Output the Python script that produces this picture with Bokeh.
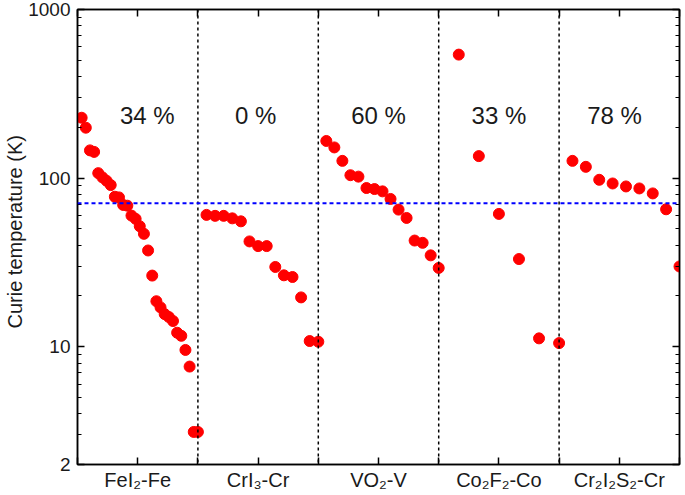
import json
from bokeh.plotting import figure
from bokeh.models import (Range1d, FixedTicker, LogAxis, LinearAxis, Span,
                          CustomJSTickFormatter, ColumnDataSource, Title)
from bokeh.core.properties import value
from bokeh.embed import file_html
from bokeh.resources import INLINE

# ---------------- data ----------------
groups = ["FeI₂-Fe", "CrI₃-Cr", "VO₂-V", "Co₂F₂-Co", "Cr₂I₂S₂-Cr"]

fei2_fe = [228, 199, 146, 143, 107, 101, 96.4, 90.9, 77.5, 76.8, 69.3, 68.6,
           59.9, 57.3, 51.8, 46.7, 37.2, 26.4, 18.6, 17.1, 15.6, 15.0, 14.2,
           12.1, 11.6, 9.56, 7.62, 3.12, 3.12]
cri3_cr = [60.5, 59.7, 59.7, 57.7, 55.4, 42.1, 39.5, 39.5, 29.7, 26.5, 25.9,
           19.6, 10.8, 10.7]
vo2_v = [166, 152, 126.5, 104, 102, 87.3, 86.1, 83.4, 75.2, 65.0, 58.0, 42.6,
         41.3, 34.8, 29.3]
co2f2_co = [540, 135, 61.3, 33.1, 11.2, 10.5]
cr2i2s2_cr = [126.5, 116.6, 97.7, 92.9, 89.2, 86.8, 81.1, 65.3, 29.9]

series = [fei2_fe, cri3_cr, vo2_v, co2f2_co, cr2i2s2_cr]

percent_labels = ["34 %", "0 %", "60 %", "33 %", "78 %"]
percent_x = [0.58, 1.48, 2.50, 3.50, 4.46]
percent_y = [235, 235, 235, 235, 235]

threshold = 71

y_ticks = [2, 10, 100, 1000]
y_minor = [3, 4, 5, 6, 7, 8, 9, 20, 30, 40, 50, 60, 70, 80, 90,
           200, 300, 400, 500, 600, 700, 800, 900]
y_title = "Curie temperature (K)"

# ---------------- figure ----------------
FONT = "Liberation Sans"
n_groups = len(groups)

p = figure(width=685, height=495, output_backend="svg", toolbar_location=None,
           y_axis_type="log", x_range=Range1d(0, n_groups),
           y_range=Range1d(2, 1000),
           min_border_left=77, min_border_right=6, min_border_top=9,
           min_border_bottom=31)
p.xgrid.visible = False
p.ygrid.visible = False
p.background_fill_color = "white"
p.border_fill_color = "white"
p.outline_line_color = "black"
p.outline_line_width = 1.5

xs, ys = [], []
for g, vals in enumerate(series):
    n = len(vals)
    for i, v in enumerate(vals):
        xs.append(g + (i + 1) / n)
        ys.append(v)

# separators
for k in range(1, n_groups):
    p.add_layout(Span(location=k, dimension="height", line_color="black",
                      line_dash="3 3", line_width=1.5))
# threshold line
p.add_layout(Span(location=threshold, dimension="width", line_color="#0000ff",
                  line_dash="4 3", line_width=2))

p.scatter(xs, ys, marker="circle", size=11, fill_color="#ff0000",
          line_color="#ff0000")

src = ColumnDataSource(dict(x=percent_x, y=percent_y, t=percent_labels))
p.text(x="x", y="y", text="t", source=src, text_align="center",
       text_baseline="middle", text_font=value(FONT),
       text_font_size="24px", text_color="#1a1a1a")

# ---------------- axes ----------------
x_tick_vals = [i * 0.5 for i in range(2 * n_groups + 1)]
label_map = {f"{g + 0.5:.1f}": name for g, name in enumerate(groups)}
x_fmt = CustomJSTickFormatter(
    code="const m = " + json.dumps(label_map) + "; const k = tick.toFixed(1); return (k in m) ? m[k] : '';")
empty_fmt = CustomJSTickFormatter(code="return '';")

xa = p.xaxis[0]
xa.ticker = FixedTicker(ticks=x_tick_vals)
xa.formatter = x_fmt
ya = p.yaxis[0]
ya.ticker = FixedTicker(ticks=y_ticks, minor_ticks=y_minor)
ya.formatter = CustomJSTickFormatter(code="return tick.toFixed(0);")

top = LinearAxis(ticker=FixedTicker(ticks=x_tick_vals), formatter=empty_fmt)
right = LogAxis(ticker=FixedTicker(ticks=y_ticks, minor_ticks=y_minor),
                formatter=empty_fmt)
p.add_layout(top, "above")
p.add_layout(right, "right")

for ax in [xa, ya, top, right]:
    ax.axis_line_color = "black"
    ax.axis_line_width = 1.5
    ax.major_tick_line_color = "black"
    ax.major_tick_line_width = 1.5
    ax.minor_tick_line_color = "black"
    ax.minor_tick_line_width = 1.2
    ax.major_tick_in = 7
    ax.major_tick_out = 0
    ax.minor_tick_in = 4
    ax.minor_tick_out = 0
    ax.major_label_text_font = FONT
    ax.major_label_text_font_size = "19px"
    ax.major_label_text_color = "#1a1a1a"

for ax in [xa, top]:
    ax.minor_tick_line_color = None
xa.major_label_text_font_size = "20px"
top.major_label_standoff = 0
right.major_label_standoff = 0
xa.major_label_standoff = 4
ya.major_label_standoff = 7

# y-axis title as a left-side title (outside the axis)
p.add_layout(Title(text=y_title, align="left", offset=136, standoff=0,
                   text_font=FONT, text_font_size="20px",
                   text_font_style="normal", text_color="#1a1a1a"), "left")

open("out.html", "w").write(file_html(p, INLINE))
